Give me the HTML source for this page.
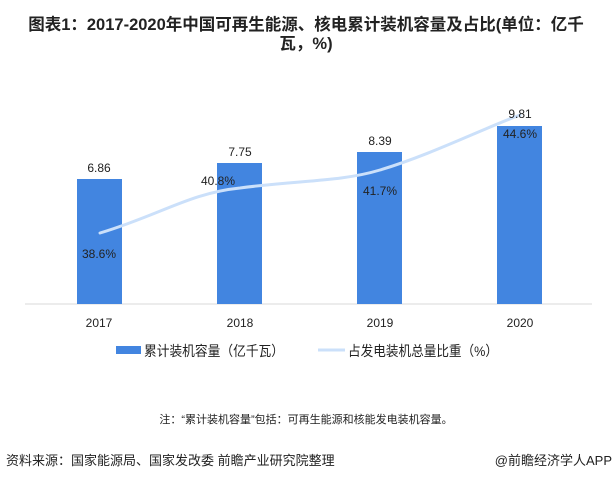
<!DOCTYPE html>
<html><head><meta charset="utf-8"><style>
body{margin:0;background:#fff;}
svg text{font-family:"Liberation Sans","Noto Sans CJK SC",sans-serif;}
</style></head><body>
<svg width="613" height="481" xmlns="http://www.w3.org/2000/svg">
<rect width="613" height="481" fill="#fff"/>
<text x="306" y="30" text-anchor="middle" font-size="16.5" font-weight="bold" fill="#222">图表1：2017-2020年中国可再生能源、核电累计装机容量及占比(单位：亿千</text>
<text x="306" y="49" text-anchor="middle" font-size="16.5" font-weight="bold" fill="#222">瓦，%)</text>
<line x1="25" y1="304" x2="592" y2="304" stroke="#d9d9d9" stroke-width="1"/>
<g fill="#4285e0">
<rect x="77" y="179" width="45" height="125"/>
<rect x="217" y="163" width="45" height="141"/>
<rect x="357" y="152" width="45" height="152"/>
<rect x="497" y="126" width="45" height="178"/>
</g>
<path d="M100,233 C160,215 190,193 240,188 C300,180 340,182 380,170 C430,155 480,130 520,115" fill="none" stroke="#cbe0fa" stroke-width="3" stroke-linecap="round"/>
<g font-size="12" fill="#222" text-anchor="middle">
<text x="99" y="172">6.86</text>
<text x="240" y="156">7.75</text>
<text x="380" y="145">8.39</text>
<text x="520" y="118">9.81</text>
<text x="99" y="258">38.6%</text>
<text x="218" y="185">40.8%</text>
<text x="380" y="195">41.7%</text>
<text x="520" y="138">44.6%</text>
<text x="99" y="327">2017</text>
<text x="240" y="327">2018</text>
<text x="380" y="327">2019</text>
<text x="520" y="327">2020</text>
</g>
<rect x="116" y="346" width="25" height="8" fill="#4285e0"/>
<text x="144" y="356" font-size="14" fill="#222" textLength="140" lengthAdjust="spacingAndGlyphs">累计装机容量（亿千瓦）</text>
<line x1="318" y1="350" x2="345" y2="350" stroke="#cbe0fa" stroke-width="3"/>
<text x="348" y="356" font-size="14" fill="#222" textLength="150" lengthAdjust="spacingAndGlyphs">占发电装机总量比重（%）</text>
<text x="306" y="423" text-anchor="middle" font-size="11" fill="#222">注：“累计装机容量”包括：可再生能源和核能发电装机容量。</text>
<text x="6" y="465" font-size="13" fill="#222">资料来源：国家能源局、国家发改委 前瞻产业研究院整理</text>
<text x="612" y="465" text-anchor="end" font-size="13" fill="#222">@前瞻经济学人APP</text>
</svg>
</body></html>
